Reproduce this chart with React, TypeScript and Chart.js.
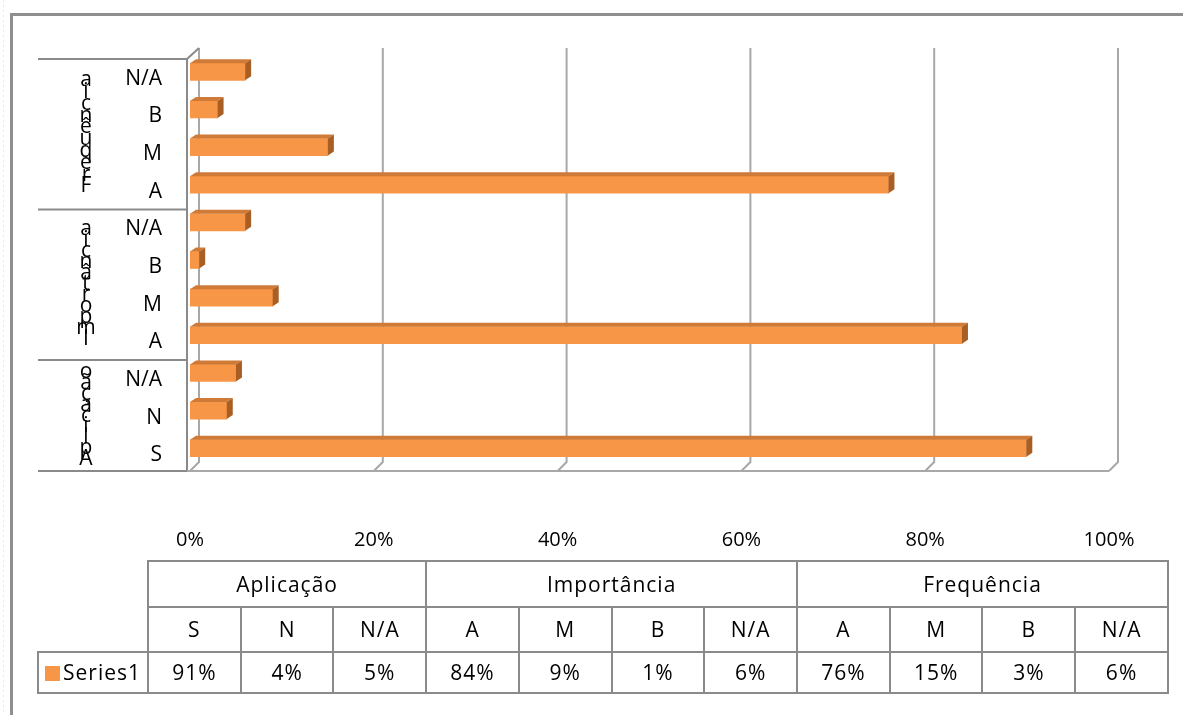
import React, { useEffect, useRef } from 'react';
import { Chart, registerables } from 'chart.js';

Chart.register(...registerables);

// ---------- data ----------
const groupNames = ['Aplicação', 'Importância', 'Frequência'];
const aplicacaoLabels = ['S', 'N', 'N/A'];
const aplicacaoValues = [91, 4, 5];
const importanciaLabels = ['A', 'M', 'B', 'N/A'];
const importanciaValues = [84, 9, 1, 6];
const frequenciaLabels = ['A', 'M', 'B', 'N/A'];
const frequenciaValues = [76, 15, 3, 6];
const xTickValues = [0, 20, 40, 60, 80, 100];
const seriesName = 'Series1';

// ---------- styling ----------
const FONT = '"Open Sans", sans-serif';
const ORANGE = '#F79646';
const ORANGE_TOP = '#D07A38';
const ORANGE_SIDE = '#A95E24';
const FRAME = '#8A8A8A';
const GRID = '#A8A8A8';
const groupLetterSpacing = [10.9, 11, 11.8];

const groups = [
  { name: groupNames[0], labels: aplicacaoLabels, values: aplicacaoValues },
  { name: groupNames[1], labels: importanciaLabels, values: importanciaValues },
  { name: groupNames[2], labels: frequenciaLabels, values: frequenciaValues },
];

// chart categories, top to bottom (reverse of table order)
const catLabels: string[] = [];
const catValues: number[] = [];
const catGroup: number[] = [];
for (let g = groups.length - 1; g >= 0; g--) {
  for (let i = groups[g].labels.length - 1; i >= 0; i--) {
    catLabels.push(groups[g].labels[i]);
    catValues.push(groups[g].values[i]);
    catGroup.push(g);
  }
}

const decorPlugin = {
  id: 'decor',
  beforeDraw(chart: any) {
    const ctx = chart.ctx;
    const ys = chart.scales.y;
    const ca = chart.chartArea;
    ctx.save();
    // faint selection dots at far left
    ctx.strokeStyle = '#EEEEB8';
    ctx.lineWidth = 1;
    ctx.setLineDash([2, 3]);
    ctx.beginPath();
    ctx.moveTo(3.5, 0);
    ctx.lineTo(3.5, 715);
    ctx.stroke();
    ctx.setLineDash([]);
    // outer frame
    ctx.strokeStyle = '#8F8F8F';
    ctx.lineWidth = 3;
    ctx.beginPath();
    ctx.moveTo(11.5, 715);
    ctx.lineTo(11.5, 14.5);
    ctx.lineTo(1183, 14.5);
    ctx.stroke();

    // left label frame
    const off = 6;
    const frontX = ca.left - 3;
    const floorY = ca.bottom + 4;
    const bounds: number[] = [ca.top + off];
    for (let i = 1; i < catLabels.length; i++) {
      if (catGroup[i] !== catGroup[i - 1]) {
        bounds.push((ys.getPixelForValue(i - 1) + ys.getPixelForValue(i)) / 2 + off);
      }
    }
    bounds.push(floorY);
    ctx.strokeStyle = FRAME;
    ctx.lineWidth = 2;
    bounds.forEach((y) => {
      ctx.beginPath();
      ctx.moveTo(38, y);
      ctx.lineTo(frontX, y);
      ctx.stroke();
    });
    ctx.beginPath();
    ctx.moveTo(frontX, ca.top + off);
    ctx.lineTo(frontX, floorY);
    ctx.stroke();

    // group names as stacked letters
    ctx.fillStyle = '#000';
    ctx.font = `21px ${FONT}`;
    ctx.textAlign = 'center';
    ctx.textBaseline = 'alphabetic';
    for (let g = 0; g < groups.length; g++) {
      const idx = catGroup.map((v, i) => (v === g ? i : -1)).filter((i) => i >= 0);
      const i0 = Math.min(...idx);
      const i1 = Math.max(...idx);
      const center = (ys.getPixelForValue(i0) + ys.getPixelForValue(i1)) / 2 + off;
      const chars = Array.from(groups[g].name);
      const n = chars.length;
      const sp = groupLetterSpacing[g];
      chars.forEach((ch, k) => {
        const y = center + 5 + ((n - 1) / 2 - k) * sp;
        ctx.fillText(ch, 86, y);
      });
    }
    ctx.restore();
  },
  beforeDatasetsDraw(chart: any) {
    const ctx = chart.ctx;
    const xs = chart.scales.x;
    const ca = chart.chartArea;
    const dx = 9;
    const wallTop = ca.top - 5;
    const wallBottom = ca.bottom - 5;
    const floorY = ca.bottom + 4;
    ctx.save();
    ctx.strokeStyle = GRID;
    ctx.lineWidth = 2;
    xTickValues.forEach((v) => {
      const x = xs.getPixelForValue(v) + dx;
      ctx.beginPath();
      ctx.moveTo(x, wallTop);
      ctx.lineTo(x, wallBottom);
      ctx.lineTo(x - 9, floorY);
      ctx.stroke();
    });
    // floor front edge
    ctx.beginPath();
    ctx.moveTo(ca.left - 3, floorY);
    ctx.lineTo(xs.getPixelForValue(100), floorY);
    ctx.stroke();
    // top-left diagonal
    ctx.strokeStyle = FRAME;
    ctx.beginPath();
    ctx.moveTo(ca.left - 3, ca.top + 6);
    ctx.lineTo(xs.getPixelForValue(0) + dx, wallTop);
    ctx.stroke();
    ctx.restore();
  },
  afterDatasetsDraw(chart: any) {
    const ctx = chart.ctx;
    const meta = chart.getDatasetMeta(0);
    const dx = 6;
    const dy = 4;
    ctx.save();
    meta.data.forEach((bar: any) => {
      const p = bar.getProps(['x', 'y', 'base', 'height'], true);
      const top = p.y - p.height / 2;
      const bottom = p.y + p.height / 2;
      ctx.fillStyle = ORANGE_TOP;
      ctx.beginPath();
      ctx.moveTo(p.base, top);
      ctx.lineTo(p.x, top);
      ctx.lineTo(p.x + dx, top - dy);
      ctx.lineTo(p.base + dx, top - dy);
      ctx.closePath();
      ctx.fill();
      ctx.fillStyle = ORANGE_SIDE;
      ctx.beginPath();
      ctx.moveTo(p.x, top);
      ctx.lineTo(p.x + dx, top - dy);
      ctx.lineTo(p.x + dx, bottom - dy);
      ctx.lineTo(p.x, bottom);
      ctx.closePath();
      ctx.fill();
    });
    ctx.restore();
  },
};

const tableCols = groups.reduce((a, g) => a + g.labels.length, 0);
const colW = (1167 - 147) / tableCols;

export default function App() {
  const ref = useRef<HTMLCanvasElement | null>(null);

  useEffect(() => {
    if (!ref.current) return;
    const chart = new Chart(ref.current, {
      type: 'bar',
      data: {
        labels: catLabels,
        datasets: [
          {
            label: seriesName,
            data: catValues,
            backgroundColor: ORANGE,
            borderWidth: 0,
            barThickness: 17,
          },
        ],
      },
      options: {
        indexAxis: 'y',
        animation: false,
        responsive: false,
        devicePixelRatio: 1,
        layout: { padding: { left: 40, right: 74, top: 53, bottom: 148 } },
        plugins: { legend: { display: false }, tooltip: { enabled: false } },
        scales: {
          x: {
            min: 0,
            max: 100,
            grid: { display: false, drawTicks: true, tickLength: 50 },
            border: { display: false },
            afterBuildTicks: (scale: any) => {
              scale.ticks = xTickValues.map((v) => ({ value: v }));
            },
            afterFit: (scale: any) => {
              scale.height = 100;
            },
            ticks: {
              padding: 11,
              maxRotation: 0,
              minRotation: 0,
              color: '#000',
              font: { family: FONT, size: 20 },
              callback: (v: any) => `${v}%`,
            },
          },
          y: {
            grid: { display: false, drawTicks: false },
            border: { display: false },
            afterFit: (scale: any) => {
              scale.width = 150;
            },
            ticks: {
              padding: 28,
              labelOffset: 7,
              color: '#000',
              font: { family: FONT, size: 21 },
              autoSkip: false,
            },
          },
        },
      },
      plugins: [decorPlugin],
    } as any);
    return () => chart.destroy();
  }, []);

  const cell: React.CSSProperties = {
    border: `2px solid ${FRAME}`,
    padding: 0,
    textAlign: 'center',
    verticalAlign: 'middle',
    color: '#000',
    lineHeight: 1,
    overflow: 'hidden',
    whiteSpace: 'nowrap',
  };
  const empty: React.CSSProperties = { border: 'none', padding: 0 };

  return (
    <div style={{ position: 'absolute', left: 0, top: 0, width: 1183, height: 715, background: '#fff' }}>
      <canvas ref={ref} width={1183} height={715} style={{ position: 'absolute', left: 0, top: 0, width: 1183, height: 715 }} />
      <table
        style={{
          position: 'absolute',
          left: 37,
          top: 560,
          borderCollapse: 'collapse',
          tableLayout: 'fixed',
          width: 1131,
          fontFamily: FONT,
          fontSize: 21,
          letterSpacing: 1,
        }}
      >
        <colgroup>
          <col style={{ width: 110 }} />
          {Array.from({ length: tableCols }).map((_, i) => (
            <col key={i} style={{ width: colW }} />
          ))}
        </colgroup>
        <tbody>
          <tr style={{ height: 46 }}>
            <td style={empty} />
            {groups.map((g) => (
              <td key={g.name} colSpan={g.labels.length} style={cell}>
                {g.name}
              </td>
            ))}
          </tr>
          <tr style={{ height: 45 }}>
            <td style={empty} />
            {groups.map((g) =>
              g.labels.map((l, i) => (
                <td key={g.name + l + i} style={cell}>
                  {l}
                </td>
              ))
            )}
          </tr>
          <tr style={{ height: 41 }}>
            <td style={{ ...cell, textAlign: 'left', paddingLeft: 6 }}>
              <span
                style={{
                  display: 'inline-block',
                  width: 15,
                  height: 15,
                  background: ORANGE,
                  marginRight: 3,
                  verticalAlign: '-1px',
                }}
              />
              {seriesName}
            </td>
            {groups.map((g) =>
              g.values.map((v, i) => (
                <td key={g.name + 'v' + i} style={cell}>
                  {v}%
                </td>
              ))
            )}
          </tr>
        </tbody>
      </table>
    </div>
  );
}
